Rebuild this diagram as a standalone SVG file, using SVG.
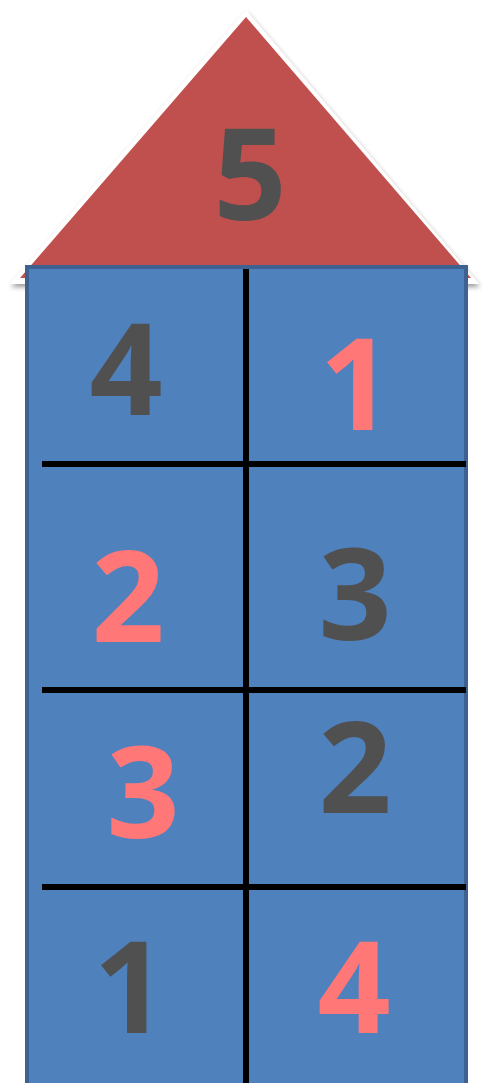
<svg xmlns="http://www.w3.org/2000/svg" width="485" height="1083" viewBox="0 0 485 1083">
<defs>
<filter id="sh" x="-10%" y="-10%" width="120%" height="120%">
<feGaussianBlur in="SourceAlpha" stdDeviation="2.5"/>
<feOffset dx="1" dy="3" result="b"/>
<feComponentTransfer><feFuncA type="linear" slope="0.4"/></feComponentTransfer>
<feMerge><feMergeNode/><feMergeNode in="SourceGraphic"/></feMerge>
</filter>
<style>
.d{font-family:"Open Sans","Liberation Sans",sans-serif;font-weight:bold;font-size:128px;text-anchor:middle}
.dk{fill:#505050}
.pk{fill:#ff7777}
.ln{stroke:#000;stroke-width:6}
</style>
</defs>
<rect width="485" height="1083" fill="#fff"/>
<g id="roof">
<polygon points="246,10 479,284 10,284" fill="#fff" filter="url(#sh)"/>
<polygon points="246,17 471,278 20,278" fill="#c0504d"/>
<text class="d dk" x="250" y="220">5</text>
</g>
<g id="body">
<rect x="27" y="267" width="439" height="820" fill="#4f81bd" stroke="#3d6190" stroke-width="4"/>
</g>
<g id="connectors">
<line class="ln" x1="246" y1="269" x2="246" y2="1083"/>
<line class="ln" x1="42" y1="464" x2="466" y2="464"/>
<line class="ln" x1="42" y1="690" x2="466" y2="690"/>
<line class="ln" x1="42" y1="887" x2="466" y2="887"/>
</g>
<g id="c1"><text class="d dk" x="126" y="415">4</text></g>
<g id="c2"><text class="d pk" x="356" y="430">1</text></g>
<g id="c3"><text class="d pk" x="128" y="642">2</text></g>
<g id="c4"><text class="d dk" x="355" y="640">3</text></g>
<g id="c5"><text class="d pk" x="143" y="838">3</text></g>
<g id="c6"><text class="d dk" x="355" y="813">2</text></g>
<g id="c7"><text class="d dk" x="130" y="1033">1</text></g>
<g id="c8"><text class="d pk" x="354" y="1033">4</text></g>
</svg>
